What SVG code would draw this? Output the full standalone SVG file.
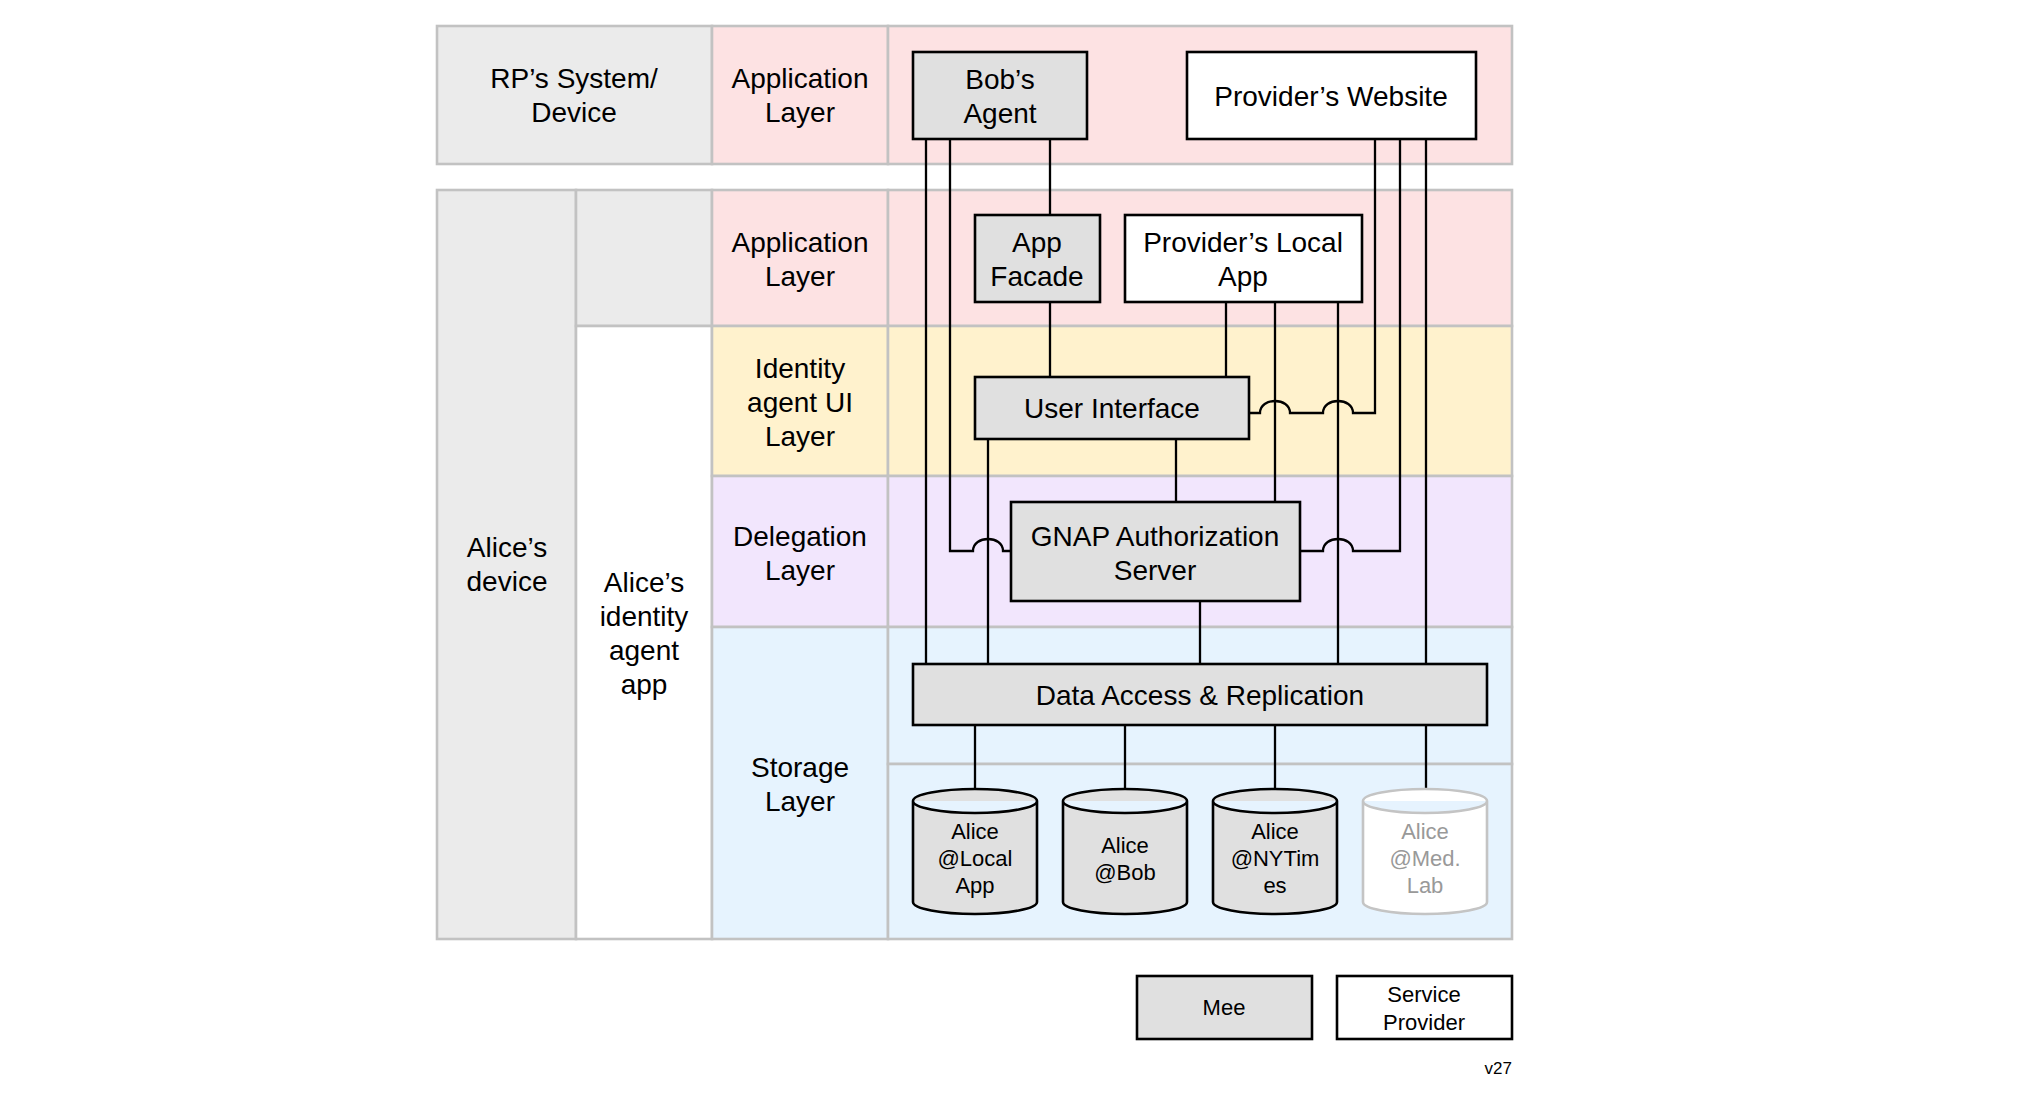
<svg xmlns="http://www.w3.org/2000/svg" width="2038" height="1102" viewBox="0 0 2038 1102">
<style>
text{font-family:"Liberation Sans",Arial,Helvetica,sans-serif;fill:#000;text-anchor:middle}
.t{font-size:28px}
.s{font-size:22px}
.cell{stroke:#c2c2c2;stroke-width:2.6}
.gray{fill:#ebebeb}
.pink{fill:#fde2e3}
.yel{fill:#fff2cd}
.pur{fill:#f2e6fd}
.blu{fill:#e6f3fe}
.wht{fill:#ffffff}
.mee{fill:#e0e0e0;stroke:#000;stroke-width:2.6}
.sp{fill:#ffffff;stroke:#000;stroke-width:2.6}
.conn path{fill:none;stroke:#000;stroke-width:2.3}
.ghost{fill:#ffffff;stroke:#c4c4c4;stroke-width:2.6}
</style>
<rect width="2038" height="1102" fill="#ffffff"/>
<g id="frame">
<rect class="cell gray" x="437" y="26" width="275" height="138"/>
<rect class="cell pink" x="712" y="26" width="176" height="138"/>
<rect class="cell pink" x="888" y="26" width="624" height="138"/>
<rect class="cell gray" x="437" y="190" width="139" height="749"/>
<rect class="cell gray" x="576" y="190" width="136" height="136"/>
<rect class="cell wht" x="576" y="326" width="136" height="613"/>
<rect class="cell pink" x="712" y="190" width="176" height="136"/>
<rect class="cell pink" x="888" y="190" width="624" height="136"/>
<rect class="cell yel" x="712" y="326" width="176" height="150"/>
<rect class="cell yel" x="888" y="326" width="624" height="150"/>
<rect class="cell pur" x="712" y="476" width="176" height="151"/>
<rect class="cell pur" x="888" y="476" width="624" height="151"/>
<rect class="cell blu" x="712" y="627" width="176" height="312"/>
<rect class="cell blu" x="888" y="627" width="624" height="137"/>
<rect class="cell blu" x="888" y="764" width="624" height="175"/>
<text class="t" x="574" y="88">RP’s System/</text>
<text class="t" x="574" y="122">Device</text>
<text class="t" x="800" y="88">Application</text>
<text class="t" x="800" y="122">Layer</text>
<text class="t" x="800" y="252">Application</text>
<text class="t" x="800" y="286">Layer</text>
<text class="t" x="800" y="378">Identity</text>
<text class="t" x="800" y="412">agent UI</text>
<text class="t" x="800" y="446">Layer</text>
<text class="t" x="800" y="546">Delegation</text>
<text class="t" x="800" y="580">Layer</text>
<text class="t" x="800" y="777">Storage</text>
<text class="t" x="800" y="811">Layer</text>
<text class="t" x="507" y="557">Alice’s</text>
<text class="t" x="507" y="591">device</text>
<text class="t" x="644" y="592">Alice’s</text>
<text class="t" x="644" y="626">identity</text>
<text class="t" x="644" y="660">agent</text>
<text class="t" x="644" y="694">app</text>
</g>
<g id="connectors" class="conn">
<path d="M926,139 V664"/>
<path d="M950,139 V551 H973 C973,535 1003,535 1003,551 H1011"/>
<path d="M1050,139 V215"/>
<path d="M1050,302 V377"/>
<path d="M1226,302 V377"/>
<path d="M1275,302 V502"/>
<path d="M1338,302 V664"/>
<path d="M1375,139 V413 H1353 C1353,397 1323,397 1323,413 H1290 C1290,397 1260,397 1260,413 H1249"/>
<path d="M1400,139 V551 H1353 C1353,535 1323,535 1323,551 H1300"/>
<path d="M1426,139 V664"/>
<path d="M988,439 V664"/>
<path d="M1176,439 V502"/>
<path d="M1200,601 V664"/>
<path d="M975,725 V789"/>
<path d="M1125,725 V789"/>
<path d="M1275,725 V789"/>
<path d="M1426,725 V789"/>
</g>
<g id="bobs-agent">
<rect class="mee" x="913" y="52" width="174" height="87"/>
<text class="t" x="1000" y="89">Bob’s</text>
<text class="t" x="1000" y="123">Agent</text>
</g>
<g id="providers-website">
<rect class="sp" x="1187" y="52" width="289" height="87"/>
<text class="t" x="1331" y="106">Provider’s Website</text>
</g>
<g id="app-facade">
<rect class="mee" x="975" y="215" width="125" height="87"/>
<text class="t" x="1037" y="252">App</text>
<text class="t" x="1037" y="286">Facade</text>
</g>
<g id="providers-local-app">
<rect class="sp" x="1125" y="215" width="237" height="87"/>
<text class="t" x="1243" y="252">Provider’s Local</text>
<text class="t" x="1243" y="286">App</text>
</g>
<g id="user-interface">
<rect class="mee" x="975" y="377" width="274" height="62"/>
<text class="t" x="1112" y="418">User Interface</text>
</g>
<g id="gnap-as">
<rect class="mee" x="1011" y="502" width="289" height="99"/>
<text class="t" x="1155" y="546">GNAP Authorization</text>
<text class="t" x="1155" y="580">Server</text>
</g>
<g id="data-access">
<rect class="mee" x="913" y="664" width="574" height="61"/>
<text class="t" x="1200" y="705">Data Access &amp; Replication</text>
</g>
<g id="db-local-app">
<path class="mee" d="M913,801 A62,12 0 0 1 1037,801 V902 A62,12 0 0 1 913,902 Z M913,801 A62,12 0 0 0 1037,801"/>
<text class="s" x="975" y="839">Alice</text>
<text class="s" x="975" y="866">@Local</text>
<text class="s" x="975" y="893">App</text>
</g>
<g id="db-bob">
<path class="mee" d="M1063,801 A62,12 0 0 1 1187,801 V902 A62,12 0 0 1 1063,902 Z M1063,801 A62,12 0 0 0 1187,801"/>
<text class="s" x="1125" y="853">Alice</text>
<text class="s" x="1125" y="880">@Bob</text>
</g>
<g id="db-nytimes">
<path class="mee" d="M1213,801 A62,12 0 0 1 1337,801 V902 A62,12 0 0 1 1213,902 Z M1213,801 A62,12 0 0 0 1337,801"/>
<text class="s" x="1275" y="839">Alice</text>
<text class="s" x="1275" y="866">@NYTim</text>
<text class="s" x="1275" y="893">es</text>
</g>
<g id="db-medlab">
<path class="ghost" d="M1363,801 A62,12 0 0 1 1487,801 V902 A62,12 0 0 1 1363,902 Z M1363,801 A62,12 0 0 0 1487,801"/>
<text class="s" x="1425" y="839" style="fill:#999999">Alice</text>
<text class="s" x="1425" y="866" style="fill:#999999">@Med.</text>
<text class="s" x="1425" y="893" style="fill:#999999">Lab</text>
</g>
<g id="legend-mee">
<rect class="mee" x="1137" y="976" width="175" height="63"/>
<text class="s" x="1224" y="1015">Mee</text>
</g>
<g id="legend-service-provider">
<rect class="sp" x="1337" y="976" width="175" height="63"/>
<text class="s" x="1424" y="1002">Service</text>
<text class="s" x="1424" y="1030">Provider</text>
</g>
<text x="1512" y="1074" style="font-size:17px;text-anchor:end">v27</text>
</svg>
